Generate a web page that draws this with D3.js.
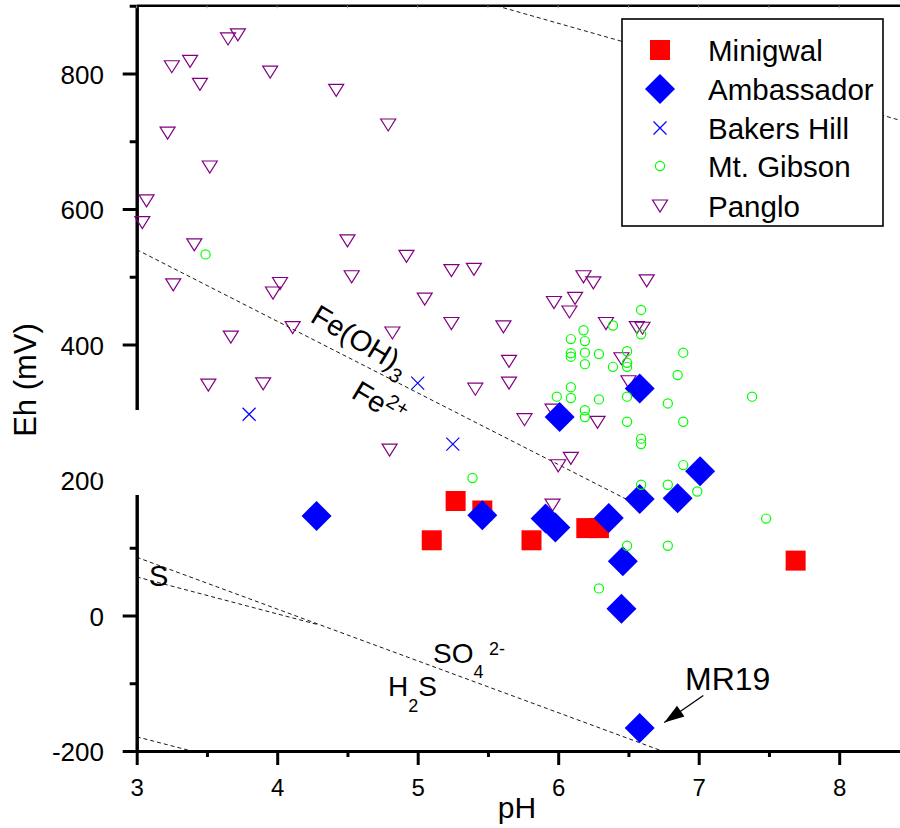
<!DOCTYPE html>
<html><head><meta charset="utf-8">
<script src="https://cdn.jsdelivr.net/npm/d3@7/dist/d3.min.js"></script>
<style>
body{margin:0;background:#fff}
svg{display:block}
text{font-family:"Liberation Sans",Arial,Helvetica,sans-serif;fill:#000}
</style>
</head><body>
<svg id="chart" width="900" height="828"></svg>
<script>
// ---- data (pH, Eh mV) ----
const seriesNames = ["Minigwal","Ambassador","Bakers Hill","Mt. Gibson","Panglo"];
const minigwal = [[5.27,169],[5.46,155],[5.10,111],[5.81,111],[6.20,129],[6.29,129],[7.69,81]];
const ambassador = [[4.28,147],[5.46,148],[5.91,143],[5.98,130],[6.01,293],[6.36,144],[6.46,80],[6.45,10],
  [6.58,172],[6.58,335],[6.85,173],[7.01,213],[6.58,-166]];
const bakersHill = [[3.80,297],[5.00,343],[5.25,253]];
const mtGibson = [[3.49,533],[5.39,203],[6.18,421],[6.09,408],[6.19,405],[6.09,387],[6.09,382],[6.19,388],
  [6.29,386],[6.19,371],[6.39,428],[6.59,451],[6.59,415],[6.49,390],[6.39,367],[6.49,373],[6.49,367],
  [6.89,388],[6.85,355],[6.09,337],[5.99,323],[6.09,321],[6.29,319],[6.49,323],[6.78,313],[7.38,323],
  [6.19,303],[6.19,293],[6.49,286],[6.89,286],[6.59,261],[6.59,253],[6.89,222],[6.59,193],[6.78,193],
  [6.99,183],[7.48,143],[6.49,103],[6.78,103],[6.29,40]];
const panglo = [[3.65,851],[3.72,857],[3.25,810],[3.38,818],[3.45,784],[3.95,802],[4.42,775],[4.79,724],
  [3.22,712],[3.52,662],[3.07,612],[3.04,580],[3.41,547],[4.50,553],[4.92,530],[4.53,500],[5.24,509],
  [5.40,511],[3.26,488],[4.02,490],[3.97,476],[4.11,425],[3.67,411],[3.51,340],[3.90,342],[5.05,467],
  [5.24,431],[4.82,417],[5.61,426],[5.65,375],[5.65,343],[5.41,334],[5.76,289],[5.97,462],[6.12,468],
  [6.08,448],[6.18,500],[6.25,491],[6.63,494],[6.34,431],[6.56,425],[6.60,424],[6.45,379],[6.50,345],
  [5.96,303],[6.28,285],[4.80,244],[6.09,232],[6.00,221],[5.96,163]];
// stability boundaries (dashed)
const boundaryO2 = [[5.56,900],[8.5,727]];
const boundaryFe = [[3,540],[6.51,169]];
const boundarySO4 = [[3,86],[6.74,-200]];
const boundaryS = [[3,57],[4.3,-14]];
const boundaryH2 = [[3,-179],[3.39,-200]];
// axes ticks
const xMajor = [3,4,5,6,7,8];
const xMinor = [3.5,4.5,5.5,6.5,7.5,8.5];
const yMajor = [-200,0,200,400,600,800];
const yMinor = [-100,100,300,500,700,900];

const svg = d3.select("#chart");
const x = d3.scaleLinear().domain([3,8.5]).range([136.7, 136.7+5.5*140.5]);
const y = d3.scaleLinear().domain([-200,900]).range([751, 751-1100*0.6775]);
const fmt = d => String(d); // plain hyphen-minus like the reference

// dashed boundary lines
const line = d3.line().x(d=>x(d[0])).y(d=>y(d[1]));
[boundaryO2,boundaryFe,boundarySO4,boundaryS,boundaryH2].forEach(b=>{
  svg.append("path").attr("d",line(b)).attr("fill","none")
    .attr("stroke","#000").attr("stroke-width",0.9).attr("stroke-dasharray","4,3");
});

// axes
function styleAxis(g){
  g.selectAll("path.domain").attr("stroke","#000").attr("stroke-width",3);
  g.selectAll(".tick line").attr("stroke","#000").attr("stroke-width",3);
}
const gxMinor = svg.append("g").attr("transform",`translate(0,${y(-200)})`)
  .call(d3.axisBottom(x).tickValues(xMinor).tickSize(6).tickSizeOuter(0).tickFormat(""));
styleAxis(gxMinor);
const gx = svg.append("g").attr("transform",`translate(0,${y(-200)})`)
  .call(d3.axisBottom(x).tickValues(xMajor).tickSize(14).tickSizeOuter(0).tickFormat(fmt));
styleAxis(gx);
gx.selectAll(".tick text").attr("y",45).attr("dy",0).attr("font-size",24)
  .style("font-family","'Liberation Sans',Arial,sans-serif");

const gyMinor = svg.append("g").attr("transform",`translate(${x(3)},0)`)
  .call(d3.axisLeft(y).tickValues(yMinor).tickSize(7).tickSizeOuter(0).tickFormat(""));
styleAxis(gyMinor);
const gy = svg.append("g").attr("transform",`translate(${x(3)},0)`)
  .call(d3.axisLeft(y).tickValues(yMajor).tickSize(14).tickSizeOuter(0).tickFormat(fmt));
styleAxis(gy);
gy.selectAll(".tick text").attr("x",-32.7).attr("dy","0.37em").attr("font-size",26)
  .style("font-family","'Liberation Sans',Arial,sans-serif");

// top frame line with tiny ticks
svg.append("line").attr("x1",x(3)).attr("x2",900).attr("y1",y(900)).attr("y2",y(900))
  .attr("stroke","#000").attr("stroke-width",2.6);
svg.append("g").selectAll("line").data(xMajor.concat(xMinor)).join("line")
  .attr("x1",d=>x(d)).attr("x2",d=>x(d)).attr("y1",y(900)).attr("y2",y(900)+2.5)
  .attr("stroke","#999").attr("stroke-width",1);

// white patches over the axis break (as in the reference)
svg.append("rect").attr("x",96.5).attr("y",410).attr("width",43).attr("height",63.5).attr("fill","#fff");
svg.append("rect").attr("x",115).attr("y",473).attr("width",25).attr("height",22).attr("fill","#fff");

// axis titles
svg.append("text").attr("transform","translate(36,380) rotate(-90)").attr("text-anchor","middle")
  .attr("font-size",31).text("Eh (mV)");
svg.append("text").attr("x",517).attr("y",818).attr("text-anchor","middle").attr("font-size",30).text("pH");

// marker shapes
const shapes = {
  square: "M-10,-10H10V10H-10Z",
  diamond: "M0,-15L15,0L0,15L-15,0Z",
  cross: "M-6.5,-6.5L6.5,6.5M-6.5,6.5L6.5,-6.5",
  circle: d3.symbol().type(d3.symbolCircle).size(Math.PI*4.6*4.6)(),
  tri: "M-7.5,-6H7.5L0,6Z"
};
const styles = {
  Minigwal:{d:shapes.square, fill:"#ff0000", stroke:"none", sw:0},
  Ambassador:{d:shapes.diamond, fill:"#0000ff", stroke:"none", sw:0},
  "Bakers Hill":{d:shapes.cross, fill:"none", stroke:"#0000ff", sw:1.2},
  "Mt. Gibson":{d:shapes.circle, fill:"none", stroke:"#00ff00", sw:1.2},
  Panglo:{d:shapes.tri, fill:"none", stroke:"#800080", sw:1.2}
};
const dataBy = {"Minigwal":minigwal,"Ambassador":ambassador,"Bakers Hill":bakersHill,"Mt. Gibson":mtGibson,"Panglo":panglo};
const drawOrder = ["Panglo","Minigwal","Ambassador","Bakers Hill","Mt. Gibson"];
drawOrder.forEach(name=>{
  const s = styles[name];
  svg.append("g").selectAll("path").data(dataBy[name]).join("path")
    .attr("d",s.d).attr("transform",d=>`translate(${x(d[0])},${y(d[1])})`)
    .attr("fill",s.fill).attr("stroke",s.stroke).attr("stroke-width",s.sw);
});

// region labels
svg.append("text").attr("transform","translate(309,321) rotate(31)").attr("font-size",29)
  .text("Fe(OH)").append("tspan").attr("font-size",20).attr("dy",9).text("3");
svg.append("text").attr("transform","translate(350,397) rotate(31)").attr("font-size",29)
  .text("Fe").append("tspan").attr("font-size",20).attr("dy",-11).text("2+");
svg.append("text").attr("x",149).attr("y",586).attr("font-size",29).text("S");
const h2s = svg.append("text").attr("x",388).attr("y",696).attr("font-size",28);
h2s.append("tspan").text("H");
h2s.append("tspan").attr("font-size",18).attr("dy",16).text("2");
h2s.append("tspan").attr("dy",-16).text("S");
const so4 = svg.append("text").attr("x",433).attr("y",663).attr("font-size",28);
so4.append("tspan").text("SO");
so4.append("tspan").attr("font-size",18).attr("dy",15).text("4");
so4.append("tspan").attr("font-size",18).attr("x",489).attr("dy",-23).text("2-");

// MR19 annotation
svg.append("text").attr("x",685).attr("y",690).attr("font-size",32).text("MR19");
const a0=[x(7.033),y(-118)], a1=[x(6.755),y(-158)];
svg.append("line").attr("x1",a0[0]).attr("y1",a0[1]).attr("x2",a1[0]).attr("y2",a1[1])
  .attr("stroke","#000").attr("stroke-width",1.3);
{
  const ang=Math.atan2(a1[1]-a0[1],a1[0]-a0[0]), L=20, W=6.5;
  const bx=a1[0]-L*Math.cos(ang), by=a1[1]-L*Math.sin(ang);
  const px=-Math.sin(ang)*W, py=Math.cos(ang)*W;
  svg.append("path").attr("d",`M${a1[0]},${a1[1]}L${bx+px},${by+py}L${bx-px},${by-py}Z`).attr("fill","#000");
}

// legend
const lg = svg.append("g");
lg.append("rect").attr("x",622).attr("y",19).attr("width",261).attr("height",207)
  .attr("fill","#fff").attr("stroke","#000").attr("stroke-width",1.6);
const baselines=[61,100,139,177,217];
seriesNames.forEach((n,i)=>{
  const s=styles[n];
  lg.append("path").attr("d",s.d).attr("transform",`translate(660,${baselines[i]-11})`)
    .attr("fill",s.fill).attr("stroke",s.stroke).attr("stroke-width",s.sw);
  lg.append("text").attr("x",708).attr("y",baselines[i]).attr("font-size",29.5).text(n);
});
</script>
</body></html>
